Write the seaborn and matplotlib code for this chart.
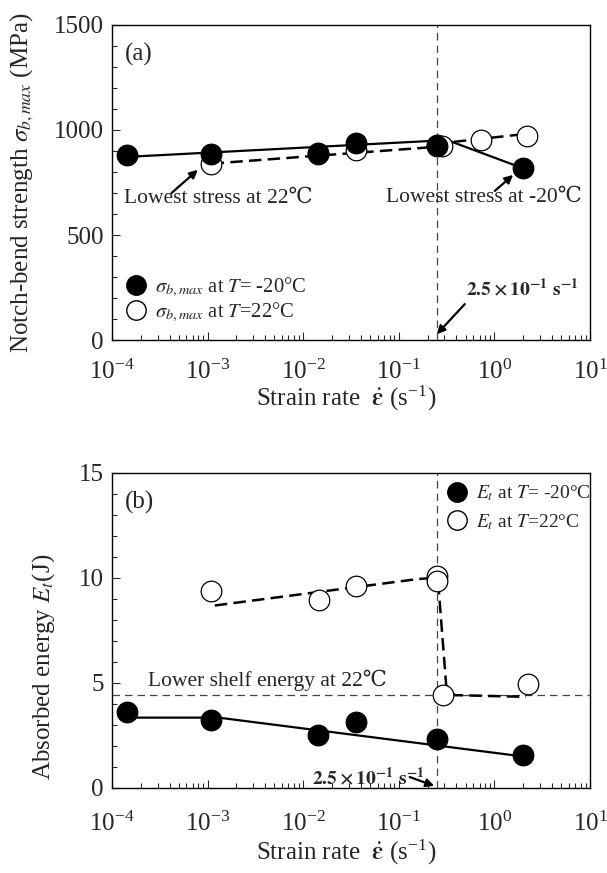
import matplotlib
matplotlib.use("Agg")
import matplotlib.pyplot as plt
import numpy as np
import pandas as pd
import seaborn as sns
from matplotlib.ticker import LogLocator, MultipleLocator, NullFormatter
from matplotlib.lines import Line2D

sns.set_theme(style="ticks")
plt.rcParams["font.family"] = ["Liberation Serif", "DejaVu Serif", "Noto Sans CJK JP"]
plt.rcParams["mathtext.fontset"] = "stix"

DEG = "\u2103"
DEG_MATH = "\u00b0C"  # stix math font has no U+2103

# --- (a) notch-bend strength ---
rate_a_cold = [1.45e-4, 1.09e-3, 1.44e-2, 3.57e-2, 0.249, 2.01]
sig_cold = [880, 886, 889, 936, 925, 817]
rate_a_room = [1.09e-3, 1.44e-2, 3.57e-2, 0.25, 0.28, 0.72, 2.18]
sig_room = [838, 885, 905, 930, 925, 952, 971]
fit_a_cold_x = [1.45e-4, 0.32, 2.01]
fit_a_cold_y = [872, 952, 817]
fit_a_room_x = [1.1e-3, 0.25, 0.32, 2.2]
fit_a_room_y = [840, 920, 940, 982]

# --- (b) absorbed energy ---
rate_b_cold = [1.45e-4, 1.09e-3, 1.44e-2, 3.6e-2, 0.249, 2.01]
e_cold = [3.60, 3.24, 2.53, 3.16, 2.32, 1.55]
rate_b_room = [1.09e-3, 1.45e-2, 3.6e-2, 0.249, 0.25, 0.289, 2.27]
e_room = [9.40, 8.93, 9.60, 10.11, 9.87, 4.45, 4.93]
fit_b_cold_x = [1.45e-4, 1.3e-3, 2.0]
fit_b_cold_y = [3.35, 3.35, 1.5]
fit_b_room_x = [1.19e-3, 0.158, 0.227, 0.263, 0.313, 0.383, 2.14]
fit_b_room_y = [8.69, 9.95, 10.0, 9.32, 4.9, 4.42, 4.34]

transition_rate = 0.25
lower_shelf = 4.45

fig = plt.figure(figsize=(6.07, 8.73), dpi=100)
ax1 = fig.add_axes([0.1845, 0.6105, 0.7875, 0.3609])
ax2 = fig.add_axes([0.1845, 0.0974, 0.7875, 0.3608])

fs = 18
afs = 15.5
mk = 220
arrow = dict(arrowstyle="-|>", color="black", lw=1.6, shrinkA=0, shrinkB=0,
             mutation_scale=12)


def style_axis(ax, ymax, ymaj, ymin, xlab_y, xpad):
    ax.set_xscale("log")
    ax.set_xlim(1e-4, 1e1)
    ax.set_ylim(0, ymax)
    ax.yaxis.set_major_locator(MultipleLocator(ymaj))
    ax.yaxis.set_minor_locator(MultipleLocator(ymin))
    ax.xaxis.set_major_locator(LogLocator(base=10, numticks=10))
    ax.xaxis.set_minor_locator(LogLocator(base=10, subs=np.arange(2, 10), numticks=20))
    ax.xaxis.set_minor_formatter(NullFormatter())
    ax.tick_params(which="both", direction="in", top=False, right=False,
                   labelsize=fs)
    ax.tick_params(axis="x", which="major", pad=xpad)
    ax.tick_params(axis="y", which="major", pad=6)
    ax.tick_params(which="major", length=6, width=0.8)
    ax.tick_params(which="minor", length=3.5, width=0.8)
    for s in ax.spines.values():
        s.set_linewidth(1.0)
        s.set_color("black")
    ax.set_xlabel(r"Strain rate  $\dot{\boldsymbol{\varepsilon}}$ (s$^{\mathregular{-1}}$)",
                  fontsize=fs)
    ax.xaxis.label.set_va("center")
    ax.xaxis.set_label_coords(0.49, xlab_y)


def draw(ax, xc, yc, xr, yr, fxc, fyc, fxr, fyr):
    sns.lineplot(x=fxc, y=fyc, ax=ax, sort=False, estimator=None,
                 color="black", lw=1.6)
    sns.lineplot(x=fxr, y=fyr, ax=ax, sort=False, estimator=None,
                 color="black", lw=1.8, linestyle=(0, (5, 2.5)))
    sns.scatterplot(x=xr, y=yr, ax=ax, s=mk, facecolor="white",
                    edgecolor="black", linewidth=0.9, zorder=3)
    sns.scatterplot(x=xc, y=yc, ax=ax, s=mk, color="black",
                    edgecolor="black", linewidth=0.9, zorder=4)
    ax.axvline(transition_rate, color="#444444", lw=0.9, ls=(0, (6, 4)), zorder=1)


def legend_handles():
    return [Line2D([], [], marker="o", ls="none", ms=14, mfc="black", mec="black"),
            Line2D([], [], marker="o", ls="none", ms=14, mfc="white", mec="black")]


# ---------- panel (a) ----------
draw(ax1, rate_a_cold, sig_cold, rate_a_room, sig_room,
     fit_a_cold_x, fit_a_cold_y, fit_a_room_x, fit_a_room_y)
style_axis(ax1, 1500, 500, 100, -0.184, 14)
ax1.set_ylabel(r"Notch-bend strength $\sigma_{b,max}$ (MPa)", fontsize=fs)
ax1.yaxis.label.set_va("center")
ax1.yaxis.set_label_coords(-0.188, 0.5)
ax1.text(0.026, 0.905, "(a)", transform=ax1.transAxes, fontsize=fs, va="center")
ax1.annotate("", xy=(7.9e-4, 810), xytext=(4.2e-4, 700), arrowprops=arrow)
ax1.text(0.026, 0.451, "Lowest stress at 22" + DEG, transform=ax1.transAxes,
         fontsize=afs, va="center")
ax1.annotate("", xy=(1.57, 786), xytext=(1.01, 710), arrowprops=arrow)
ax1.text(0.573, 0.454, "Lowest stress at -20" + DEG, transform=ax1.transAxes,
         fontsize=afs, va="center")
ax1.text(0.74, 0.165, r"$\mathbf{2.5\times10^{-1}\ s^{-1}}$", transform=ax1.transAxes,
         fontsize=14, va="center")
ax1.annotate("", xy=(transition_rate, 28), xytext=(0.49, 171), arrowprops=arrow)
ax1.legend(legend_handles(),
           [r"$\sigma_{b,max}$ at $T$= -20" + DEG_MATH, r"$\sigma_{b,max}$ at $T$=22" + DEG_MATH],
           loc="center left", bbox_to_anchor=(0.0, 0.127), frameon=False,
           fontsize=14.8, handlelength=1.7, handletextpad=0.1, labelspacing=0.12,
           borderaxespad=0.0, borderpad=0.3)

# ---------- panel (b) ----------
draw(ax2, rate_b_cold, e_cold, rate_b_room, e_room,
     fit_b_cold_x, fit_b_cold_y, fit_b_room_x, fit_b_room_y)
style_axis(ax2, 15, 5, 1, -0.203, 17)
ax2.axhline(lower_shelf, color="#444444", lw=0.9, ls=(0, (6, 4)), zorder=1)
ax2.set_ylabel(r"Absorbed energy $E_t$(J)", fontsize=fs)
ax2.yaxis.label.set_va("center")
ax2.yaxis.set_label_coords(-0.144, 0.384)
ax2.text(0.026, 0.905, "(b)", transform=ax2.transAxes, fontsize=fs, va="center")
ax2.text(0.075, 0.343, "Lower shelf energy at 22" + DEG, transform=ax2.transAxes,
         fontsize=afs, va="center")
ax2.text(0.418, 0.035, r"$\mathbf{2.5\times10^{-1}\ s^{-1}}$", transform=ax2.transAxes,
         fontsize=14, va="center")
ax2.annotate("", xy=(0.235, 0.1), xytext=(0.13, 0.52), arrowprops=arrow)
ax2.legend(legend_handles(),
           [r"$E_t$ at $T$= -20" + DEG_MATH, r"$E_t$ at $T$=22" + DEG_MATH],
           loc="center left", bbox_to_anchor=(0.672, 0.89), frameon=False,
           fontsize=14, handlelength=1.8, handletextpad=0.1, labelspacing=0.45,
           borderaxespad=0.0, borderpad=0.3)

fig.savefig("out.png", dpi=100)
